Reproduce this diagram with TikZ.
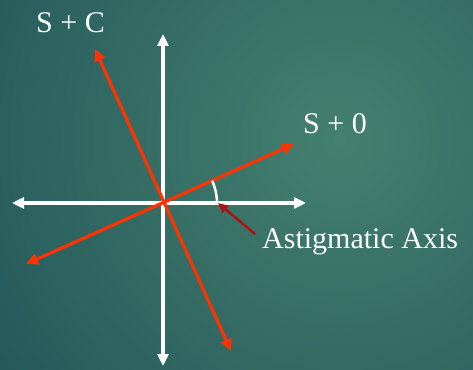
\documentclass[tikz,border=0pt]{standalone}
\usepackage{fontspec}
\setmainfont{Liberation Serif}
\usetikzlibrary{arrows.meta}
\definecolor{bgdark}{HTML}{24585A}
\definecolor{bglight}{HTML}{44806F}
\definecolor{axred}{HTML}{FF3300}
\definecolor{ptrred}{HTML}{B01212}
\tikzset{
  whiteaxis/.style={draw=white, line width=3.2pt, {Triangle[length=12pt,width=11pt]}-{Triangle[length=12pt,width=11pt]}},
  redaxis/.style={draw=axred, line width=3.2pt, {Triangle[length=12pt,width=11pt]}-{Triangle[length=12pt,width=11pt]}},
  pointer/.style={draw=ptrred, line width=2.5pt, -{Triangle[length=10pt,width=9pt]}},
  lbl/.style={text=white, font=\fontsize{30}{36}\selectfont, inner sep=0pt, anchor=base west}
}
\begin{document}
\begin{tikzpicture}[x=1pt,y=-1pt]
\useasboundingbox (0,0) rectangle (473,369);
\begin{scope}
\clip (0,0) rectangle (473,369);
\shade[inner color=bglight, outer color=bgdark] (340,140) circle (420);
\end{scope}
\coordinate (O) at (163,203);
\coordinate (hl) at (12,203);
\coordinate (hr) at (306,203);
\coordinate (vt) at (163,34);
\coordinate (vb) at (163,366);
\coordinate (al) at (26,264);
\coordinate (ar) at (294,144);
\coordinate (bt) at (95,49);
\coordinate (bb) at (231,351);
\coordinate (pt) at (255,234);
\coordinate (pe) at (218,203);
\draw[whiteaxis] (hl) -- (hr);
\draw[whiteaxis] (vb) -- (vt);
\draw[redaxis] (al) -- (ar);
\draw[redaxis] (bt) -- (bb);
\draw[white, line width=2.5pt] ([shift={(-24.4:54)}]O) arc[start angle=-24.4, end angle=0, radius=54];
\draw[pointer] (pt) -- (pe);
\node[lbl] (sc) at (36,33) {S + C};
\node[lbl] (s0) at (303,133) {S + 0};
\node[lbl] (ax) at (262,248) {Astigmatic Axis};
\end{tikzpicture}
\end{document}
